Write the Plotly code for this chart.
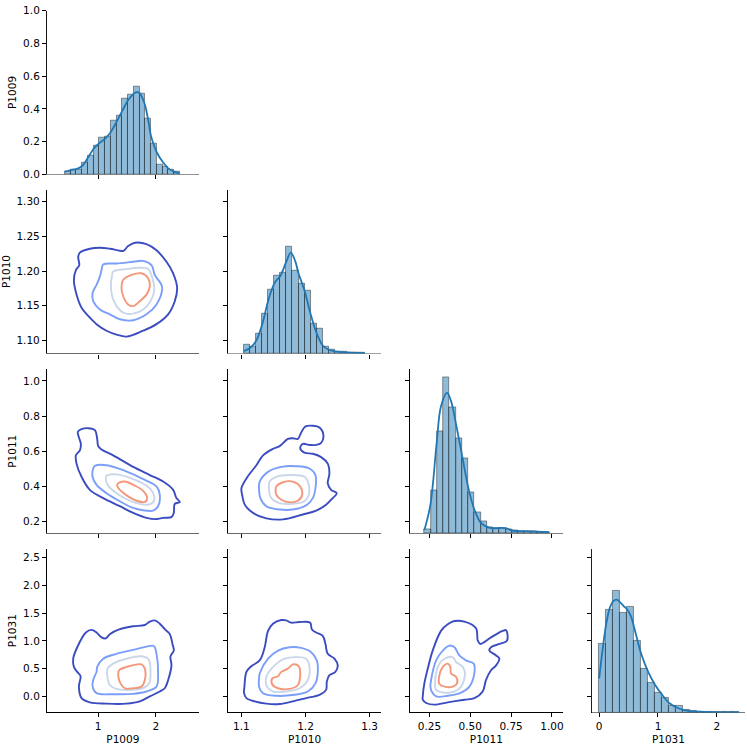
import plotly.graph_objects as go

names = ['P1009', 'P1010', 'P1011', 'P1031']

# histogram bins (left edge, width) and bar heights, diagonal panels share one y scale
p1009_bin_start, p1009_bin_w = 0.42, 0.0997
p1009_hist = [0.016, 0.030, 0.026, 0.070, 0.116, 0.176, 0.226, 0.230, 0.327, 0.357,
              0.461, 0.487, 0.537, 0.491, 0.341, 0.190, 0.058, 0.046, 0.030, 0.016]
p1010_bin_start, p1010_bin_w = 1.104, 0.00945
p1010_hist = [0.052, 0.038, 0.122, 0.242, 0.389, 0.475, 0.495, 0.653, 0.503, 0.425,
              0.385, 0.182, 0.148, 0.042, 0.022, 0.012, 0.008, 0.006, 0.004, 0.002]
p1011_bin_start, p1011_bin_w = 0.2194, 0.0383
p1011_hist = [0.026, 0.259, 0.623, 0.952, 0.766, 0.579, 0.455, 0.248, 0.128, 0.074,
              0.034, 0.030, 0.030, 0.024, 0.014, 0.012, 0.010, 0.008, 0.006, 0.006]
p1031_bin_start, p1031_bin_w = 0.0, 0.119
p1031_hist = [0.419, 0.629, 0.743, 0.609, 0.643, 0.435, 0.269, 0.178, 0.118, 0.088,
              0.042, 0.038, 0.014, 0.010, 0.006, 0.004, 0.002, 0.002, 0.002, 0.002]

# kde curves on the diagonal
p1009_kde_x = [0.422, 0.522, 0.620, 0.725, 0.823, 0.921, 1.020, 1.118, 1.216, 1.314, 1.418, 1.516,
               1.615, 1.661, 1.719, 1.777, 1.817, 1.875, 1.915, 1.979, 2.014, 2.118, 2.216, 2.314, 2.412]
p1009_kde_y = [0.016, 0.026, 0.032, 0.052, 0.102, 0.156, 0.190, 0.216, 0.257, 0.317, 0.387, 0.451,
               0.491, 0.501, 0.495, 0.457, 0.417, 0.317, 0.236, 0.166, 0.136, 0.076, 0.036, 0.016, 0.006]
p1010_kde_x = [1.1039, 1.1138, 1.1231, 1.1325, 1.1423, 1.1516, 1.1610, 1.1703, 1.1770, 1.1843,
               1.1890, 1.1988, 1.2081, 1.2175, 1.2268, 1.2361, 1.2460, 1.2647, 1.2926]
p1010_kde_y = [0.014, 0.034, 0.078, 0.178, 0.329, 0.429, 0.475, 0.563, 0.615, 0.559,
               0.489, 0.379, 0.238, 0.122, 0.048, 0.022, 0.012, 0.006, 0.002]
p1011_kde_x = [0.2194, 0.2561, 0.2948, 0.3213, 0.3580, 0.3824, 0.4109, 0.4497, 0.4884, 0.5250,
               0.5637, 0.6025, 0.6412, 0.6799, 0.7186, 0.7573, 0.8327, 0.9855]
p1011_kde_y = [0.020, 0.174, 0.555, 0.776, 0.856, 0.806, 0.675, 0.475, 0.275, 0.144,
               0.064, 0.038, 0.030, 0.032, 0.030, 0.016, 0.012, 0.006]
p1031_kde_x = [0.0, 0.057, 0.119, 0.181, 0.238, 0.300, 0.357, 0.420, 0.476, 0.539, 0.595,
               0.652, 0.714, 0.833, 0.952, 1.071, 1.190, 1.310, 1.429, 1.548, 1.786, 2.381]
p1031_kde_y = [0.208, 0.379, 0.539, 0.639, 0.679, 0.689, 0.673, 0.649, 0.629, 0.589, 0.519,
               0.439, 0.359, 0.248, 0.168, 0.108, 0.058, 0.032, 0.016, 0.008, 0.004, 0.0]

# bivariate kde contour lines, four levels each (outer -> inner)
p1010_p1009_x = [
    [0.682, 0.855, 1.029, 1.202, 1.347, 1.434, 1.520, 1.636, 1.838, 2.012, 2.185, 2.301, 2.370, 2.329,
     2.214, 2.012, 1.780, 1.491, 1.318, 1.145, 0.971, 0.827, 0.711, 0.624, 0.578, 0.613, 0.671, 0.653],
    [1.087, 1.318, 1.607, 1.780, 1.925, 1.983, 2.098, 2.110, 2.012, 1.838, 1.607, 1.376, 1.202, 1.029,
     0.913, 0.902, 0.971, 1.029, 1.058],
    [1.260, 1.491, 1.723, 1.867, 1.942, 1.971, 1.908, 1.780, 1.607, 1.434, 1.318, 1.243, 1.220, 1.237],
    [1.434, 1.578, 1.751, 1.867, 1.896, 1.838, 1.723, 1.607, 1.520, 1.434, 1.405],
]
p1010_p1009_y = [
    [1.2265, 1.2322, 1.2336, 1.2322, 1.2299, 1.2289, 1.2360, 1.2408, 1.2389, 1.2299, 1.2133, 1.1967, 1.1754, 1.1564,
     1.1374, 1.1232, 1.1137, 1.1052, 1.1081, 1.1137, 1.1232, 1.1351, 1.1469, 1.1659, 1.1872, 1.2014, 1.2085, 1.2204],
    [1.2095, 1.2109, 1.2133, 1.2147, 1.2085, 1.1943, 1.1801, 1.1730, 1.1517, 1.1374, 1.1289, 1.1303, 1.1374, 1.1445,
     1.1564, 1.1682, 1.1801, 1.1919, 1.2014],
    [1.1991, 1.2028, 1.2047, 1.2028, 1.1896, 1.1706, 1.1564, 1.1445, 1.1384, 1.1398, 1.1493, 1.1635, 1.1801, 1.1919],
    [1.1872, 1.1943, 1.1967, 1.1896, 1.1777, 1.1659, 1.1564, 1.1493, 1.1517, 1.1635, 1.1754],
]

p1011_p1009_x = [
    [0.647, 0.711, 0.827, 0.942, 0.983, 1.000, 1.058, 1.260, 1.607, 1.896, 2.127, 2.301, 2.358, 2.416, 2.329,
     2.312, 2.272, 2.127, 2.012, 1.838, 1.607, 1.376, 1.087, 0.855, 0.711, 0.624, 0.613, 0.682, 0.699, 0.665],
    [0.942, 1.145, 1.434, 1.780, 2.012, 2.069, 2.040, 1.954, 1.780, 1.607, 1.376, 1.145, 0.971, 0.902, 0.913],
    [1.145, 1.318, 1.607, 1.838, 1.954, 1.965, 1.867, 1.723, 1.549, 1.318, 1.173, 1.133],
    [1.347, 1.462, 1.636, 1.780, 1.850, 1.809, 1.665, 1.520, 1.376, 1.329],
]
p1011_p1009_y = [
    [0.711, 0.726, 0.731, 0.720, 0.670, 0.629, 0.610, 0.577, 0.511, 0.465, 0.428, 0.381, 0.334, 0.312, 0.301,
     0.250, 0.226, 0.222, 0.215, 0.222, 0.250, 0.288, 0.334, 0.381, 0.455, 0.530, 0.577, 0.605, 0.642, 0.679],
    [0.517, 0.521, 0.493, 0.442, 0.400, 0.353, 0.288, 0.263, 0.265, 0.278, 0.316, 0.362, 0.409, 0.455, 0.502],
    [0.461, 0.469, 0.442, 0.405, 0.362, 0.316, 0.297, 0.301, 0.319, 0.362, 0.405, 0.437],
    [0.418, 0.428, 0.405, 0.375, 0.334, 0.312, 0.319, 0.344, 0.381, 0.405],
]

p1031_p1009_x = [
    [0.636, 0.786, 0.884, 0.971, 1.058, 1.133, 1.202, 1.376, 1.607, 1.809, 1.896, 1.983, 2.069, 2.156, 2.243, 2.289,
     2.312, 2.254, 2.272, 2.214, 2.156, 2.069, 1.896, 1.723, 1.491, 1.145, 0.855, 0.711, 0.665, 0.694, 0.636, 0.578,
     0.566],
    [0.983, 1.087, 1.318, 1.607, 1.838, 1.965, 2.012, 2.040, 2.012, 1.838, 1.607, 1.260, 0.971, 0.902, 0.913, 0.971],
    [1.162, 1.260, 1.491, 1.780, 1.879, 1.908, 1.884, 1.780, 1.549, 1.318, 1.202, 1.156],
    [1.364, 1.491, 1.751, 1.809, 1.809, 1.751, 1.607, 1.462, 1.387, 1.347],
]
p1031_p1009_y = [
    [0.887, 1.152, 1.200, 1.152, 1.064, 1.046, 1.123, 1.212, 1.265, 1.288, 1.348, 1.371, 1.312, 1.212, 1.123, 0.946,
     0.827, 0.721, 0.561, 0.296, 0.148, 0.089, 0.000, -0.089, -0.130, -0.130, -0.106, -0.030, 0.177, 0.366, 0.443,
     0.532, 0.680],
    [0.532, 0.680, 0.768, 0.839, 0.898, 0.910, 0.768, 0.414, 0.177, 0.089, 0.047, 0.041, 0.059, 0.177, 0.296, 0.443],
    [0.502, 0.591, 0.680, 0.721, 0.662, 0.414, 0.236, 0.148, 0.118, 0.136, 0.207, 0.384],
    [0.473, 0.532, 0.579, 0.502, 0.296, 0.177, 0.148, 0.148, 0.236, 0.384],
]

p1011_p1010_x = [
    [1.1000, 1.1078, 1.1233, 1.1337, 1.1492, 1.1596, 1.1725, 1.1803, 1.1881, 1.1933, 1.2000, 1.2114, 1.2218, 1.2280,
     1.2244, 1.2166, 1.2062, 1.1959, 1.1917, 1.1984, 1.2114, 1.2244, 1.2347, 1.2373, 1.2347, 1.2399, 1.2487, 1.2425,
     1.2321, 1.2166, 1.1959, 1.1648, 1.1389, 1.1181, 1.1052, 1.1016],
    [1.1285, 1.1415, 1.1622, 1.1855, 1.2062, 1.2155, 1.2155, 1.2114, 1.2010, 1.1803, 1.1596, 1.1389, 1.1295, 1.1275],
    [1.1440, 1.1544, 1.1751, 1.1984, 1.2052, 1.2052, 1.1984, 1.1803, 1.1596, 1.1466, 1.1430],
    [1.1544, 1.1648, 1.1803, 1.1917, 1.1948, 1.1881, 1.1751, 1.1622, 1.1544, 1.1534],
]
p1011_p1010_y = [
    [0.390, 0.446, 0.521, 0.577, 0.614, 0.629, 0.670, 0.674, 0.670, 0.707, 0.741, 0.745, 0.735, 0.689,
     0.648, 0.636, 0.636, 0.642, 0.618, 0.592, 0.586, 0.567, 0.530, 0.474, 0.418, 0.381, 0.362, 0.334,
     0.297, 0.263, 0.241, 0.213, 0.219, 0.250, 0.297, 0.344],
    [0.428, 0.483, 0.511, 0.515, 0.502, 0.465, 0.390, 0.334, 0.293, 0.269, 0.269, 0.288, 0.334, 0.381],
    [0.428, 0.455, 0.465, 0.455, 0.409, 0.353, 0.316, 0.301, 0.306, 0.334, 0.381],
    [0.400, 0.424, 0.428, 0.400, 0.353, 0.319, 0.310, 0.325, 0.353, 0.381],
]

p1031_p1010_x = [
    [1.1047, 1.1078, 1.1155, 1.1285, 1.1363, 1.1415, 1.1492, 1.1622, 1.1699, 1.1777, 1.1907, 1.2073, 1.2098, 1.2166,
     1.2269, 1.2311, 1.2347, 1.2451, 1.2503, 1.2466, 1.2373, 1.2332, 1.2321, 1.2218, 1.2010, 1.1803, 1.1596, 1.1389,
     1.1207, 1.1078, 1.1041],
    [1.1285, 1.1415, 1.1570, 1.1751, 1.1933, 1.2088, 1.2176, 1.2192, 1.2155, 1.2036, 1.1829, 1.1544, 1.1337, 1.1275,
     1.1275],
    [1.1389, 1.1518, 1.1674, 1.1855, 1.2010, 1.2062, 1.2036, 1.1907, 1.1699, 1.1492, 1.1399],
    [1.1482, 1.1570, 1.1622, 1.1725, 1.1803, 1.1896, 1.1917, 1.1881, 1.1751, 1.1570, 1.1477],
]
p1031_p1010_y = [
    [0.177, 0.443, 0.544, 0.650, 0.887, 1.182, 1.312, 1.377, 1.371, 1.330, 1.342, 1.330, 1.212, 1.152,
     1.093, 0.946, 0.768, 0.680, 0.561, 0.443, 0.384, 0.266, 0.118, 0.030, -0.030, -0.089, -0.136, -0.130,
     -0.089, -0.030, 0.059],
    [0.414, 0.680, 0.827, 0.887, 0.875, 0.798, 0.650, 0.443, 0.236, 0.089, 0.030, 0.012, 0.059, 0.177, 0.325],
    [0.355, 0.561, 0.680, 0.709, 0.680, 0.532, 0.296, 0.148, 0.089, 0.089, 0.177],
    [0.325, 0.366, 0.443, 0.502, 0.579, 0.544, 0.384, 0.207, 0.136, 0.148, 0.225],
]

p1031_p1011_x = [
    [0.209, 0.219, 0.240, 0.270, 0.321, 0.362, 0.403, 0.464, 0.535, 0.546, 0.562, 0.627, 0.698, 0.719, 0.725,
     0.678, 0.627, 0.617, 0.658, 0.678, 0.658, 0.627, 0.596, 0.576, 0.525, 0.464, 0.362, 0.281, 0.230, 0.209],
    [0.260, 0.291, 0.332, 0.372, 0.403, 0.433, 0.474, 0.521, 0.525, 0.495, 0.444, 0.362, 0.291, 0.264, 0.256],
    [0.285, 0.311, 0.342, 0.393, 0.413, 0.454, 0.468, 0.444, 0.403, 0.332, 0.291],
    [0.311, 0.332, 0.362, 0.378, 0.382, 0.413, 0.419, 0.393, 0.342, 0.311],
]
p1031_p1011_y = [
    [0.000, 0.236, 0.502, 0.827, 1.182, 1.300, 1.359, 1.348, 1.229, 1.005, 0.946, 1.064, 1.182, 1.194, 1.005,
     0.946, 0.887, 0.827, 0.739, 0.680, 0.561, 0.473, 0.296, 0.089, -0.030, -0.059, -0.106, -0.148, -0.118, -0.059],
    [0.296, 0.650, 0.827, 0.916, 0.887, 0.739, 0.650, 0.591, 0.414, 0.177, 0.071, 0.012, 0.000, 0.089, 0.177],
    [0.296, 0.591, 0.680, 0.709, 0.621, 0.532, 0.414, 0.177, 0.089, 0.071, 0.118],
    [0.384, 0.532, 0.591, 0.532, 0.414, 0.355, 0.236, 0.177, 0.177, 0.225],
]

# tick values per variable
x_ticks = [[1, 2], [1.1, 1.2, 1.3], [0.25, 0.5, 0.75, 1.0], [0, 1, 2]]
x_fmt = ['', '.1f', '.2f', '']
y_ticks = [[0.0, 0.2, 0.4, 0.6, 0.8, 1.0], [1.10, 1.15, 1.20, 1.25, 1.30],
           [0.2, 0.4, 0.6, 0.8, 1.0], [0.0, 0.5, 1.0, 1.5, 2.0, 2.5]]
y_fmt = ['.1f', '.2f', '.1f', '.1f']

diag = [
    (p1009_bin_start, p1009_bin_w, p1009_hist, p1009_kde_x, p1009_kde_y),
    (p1010_bin_start, p1010_bin_w, p1010_hist, p1010_kde_x, p1010_kde_y),
    (p1011_bin_start, p1011_bin_w, p1011_hist, p1011_kde_x, p1011_kde_y),
    (p1031_bin_start, p1031_bin_w, p1031_hist, p1031_kde_x, p1031_kde_y),
]
contours = {
    (1, 0): (p1010_p1009_x, p1010_p1009_y),
    (2, 0): (p1011_p1009_x, p1011_p1009_y),
    (3, 0): (p1031_p1009_x, p1031_p1009_y),
    (2, 1): (p1011_p1010_x, p1011_p1010_y),
    (3, 1): (p1031_p1010_x, p1031_p1010_y),
    (3, 2): (p1031_p1011_x, p1031_p1011_y),
}

level_colors = ['#3b4cc0', '#7b9ff9', '#cad6ea', '#f4987a']
bar_fill = 'rgba(31,119,180,0.5)'
bar_edge = 'rgba(0,0,0,0.45)'
kde_color = '#1f77b4'

# grid layout (paper fractions) and axis limits
x_dom = [(0.0629, 0.2664), (0.3056, 0.5109), (0.5498, 0.7541), (0.7934, 0.9987)]
y_dom = [(0.7720, 0.9937), (0.5293, 0.7511), (0.2857, 0.5076), (0.0427, 0.2644)]
x_lim = [(0.11, 2.745), (1.079, 1.318), (0.132, 1.065), (-0.124, 2.48)]
y_lim = [(0.0, 1.0005), (1.081, 1.3175), (0.135, 1.065), (-0.289, 2.66)]

font = dict(family='DejaVu Sans', size=10.5, color='black')
common = dict(showline=True, linecolor='black', linewidth=1, ticks='outside', ticklen=4,
              tickwidth=1, tickcolor='black', showgrid=False, zeroline=False, tickfont=font,
              tickmode='array', ticklabeloverflow='allow')

hist_top = max(max(d[2]) for d in diag) * 1.05

fig = go.Figure()
layout = {}
n = 0
hist_axis = 20
for i in range(4):
    for j in range(i + 1):
        n += 1
        k = '' if n == 1 else str(n)
        xa = dict(common, domain=x_dom[j], range=x_lim[j], anchor='y' + k,
                  tickvals=x_ticks[j], tickformat=x_fmt[j], showticklabels=(i == 3))
        ya = dict(common, domain=y_dom[i], range=y_lim[i], anchor='x' + k,
                  tickvals=y_ticks[i], tickformat=y_fmt[i], showticklabels=(j == 0))
        if i == 3:
            xa['title'] = dict(text=names[j], font=font, standoff=4)
        if j == 0:
            ya['title'] = dict(text=names[i], font=font, standoff=4)
        if i < 3:
            xa['linecolor'] = '#6a6a6a'
            xa['linewidth'] = 1.4
        layout['xaxis' + k] = xa
        layout['yaxis' + k] = ya

        if i == j:
            start, w, heights, kx, ky = diag[i]
            hist_axis += 1
            hy = str(hist_axis)
            # hidden count axis for the diagonal, same box as the panel
            layout['yaxis' + hy] = dict(domain=y_dom[i], anchor='x' + k, range=[0, hist_top],
                                        visible=False, showgrid=False, zeroline=False)
            # keeps the panel's own y axis drawn
            fig.add_trace(go.Scatter(x=[None], y=[None], xaxis='x' + k, yaxis='y' + k,
                                     showlegend=False, hoverinfo='skip'))
            centers = [start + w * (b + 0.5) for b in range(len(heights))]
            fig.add_trace(go.Bar(x=centers, y=heights, width=w, xaxis='x' + k, yaxis='y' + hy,
                                 marker=dict(color=bar_fill, line=dict(color=bar_edge, width=0.9)),
                                 showlegend=False, hoverinfo='skip'))
            fig.add_trace(go.Scatter(x=kx, y=ky, mode='lines', xaxis='x' + k, yaxis='y' + hy,
                                     line=dict(color=kde_color, width=1.8, shape='spline'),
                                     showlegend=False))
        else:
            cx, cy = contours[(i, j)]
            for lev in range(4):
                xs = cx[lev] + cx[lev][:1]
                ys = cy[lev] + cy[lev][:1]
                fig.add_trace(go.Scatter(x=xs, y=ys, mode='lines', xaxis='x' + k, yaxis='y' + k,
                                         line=dict(color=level_colors[lev], width=1.9, shape='spline',
                                                   smoothing=1.0),
                                         showlegend=False))

fig.update_layout(layout)
fig.update_layout(width=747, height=750, margin=dict(l=0, r=0, t=0, b=0),
                  paper_bgcolor='white', plot_bgcolor='white', font=font, bargap=0)

# the page body has a default 8px margin; drop it so the figure sits at the window corner
fig.write_html("out.html", config={'displayModeBar': False},
               post_script="document.body.style.margin = '0';")
